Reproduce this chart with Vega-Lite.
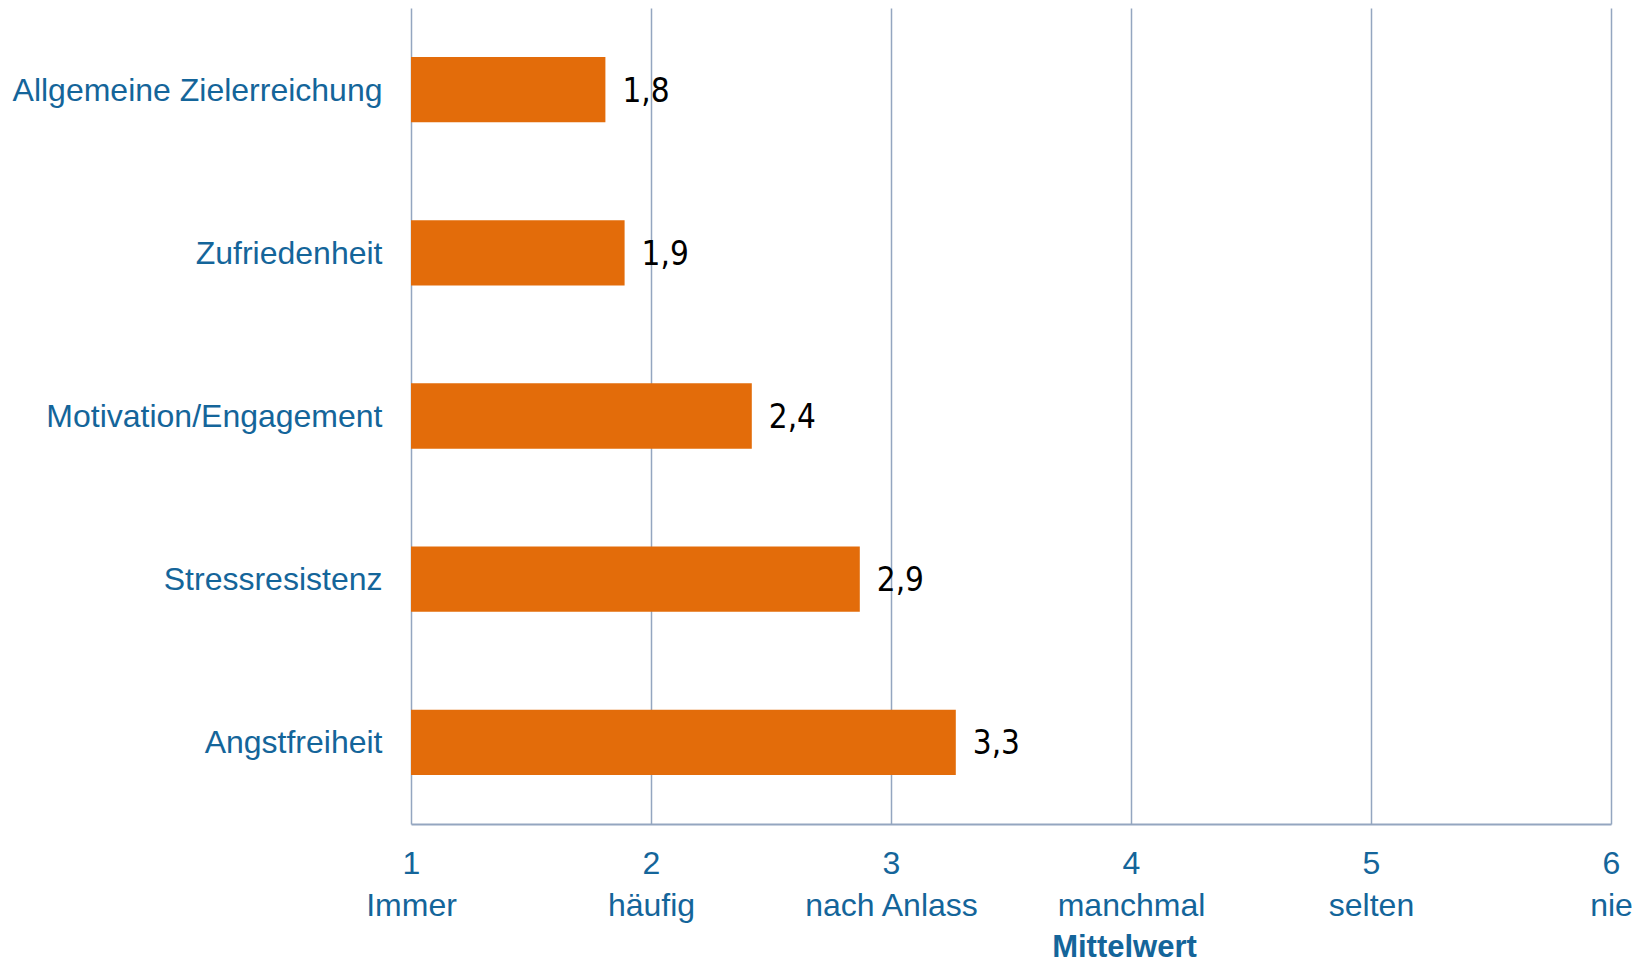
{
  "$schema": "https://vega.github.io/schema/vega-lite/v6.json",
  "width": 1200,
  "height": 816,
  "autosize": {"type": "none"},
  "padding": {"left": 411, "top": 8, "right": 29, "bottom": 139},
  "background": "white",
  "config": {"view": {"stroke": null}},
  "data": {
    "values": [
      {"cat": "Allgemeine Zielerreichung", "value": 1.81, "label": "1,8"},
      {"cat": "Zufriedenheit", "value": 1.89, "label": "1,9"},
      {"cat": "Motivation/Engagement", "value": 2.42, "label": "2,4"},
      {"cat": "Stressresistenz", "value": 2.87, "label": "2,9"},
      {"cat": "Angstfreiheit", "value": 3.27, "label": "3,3"}
    ]
  },
  "encoding": {
    "y": {
      "field": "cat",
      "type": "nominal",
      "sort": null,
      "scale": {"paddingInner": 0.6, "paddingOuter": 0.3},
      "axis": {
        "title": null,
        "domain": false,
        "ticks": false,
        "grid": false,
        "labelFont": "Liberation Sans",
        "labelFontSize": 32,
        "labelColor": "#14659a",
        "labelPadding": 29,
        "labelOffset": 1,
        "labelLimit": 420
      }
    }
  },
  "layer": [
    {
      "mark": {"type": "bar", "color": "#e36c0a"},
      "encoding": {
        "x": {
          "field": "value",
          "type": "quantitative",
          "scale": {"domain": [1, 6], "nice": false, "zero": false},
          "axis": {
            "values": [1, 2, 3, 4, 5, 6],
            "grid": true,
            "gridColor": "#94a6c0",
            "gridWidth": 1.5,
            "domain": true,
            "domainColor": "#94a6c0",
            "domainWidth": 2,
            "ticks": false,
            "labelFont": "Liberation Sans",
            "labelFontSize": 32,
            "labelColor": "#14659a",
            "labelPadding": 24,
            "labelLineHeight": 42,
            "labelFlush": false,
            "labelOverlap": false,
            "labelExpr": "[format(datum.value, 'd'), ['', 'Immer', 'häufig', 'nach Anlass', 'manchmal', 'selten', 'nie'][datum.value]]",
            "title": "Mittelwert",
            "titleFont": "Liberation Sans",
            "titleFontSize": 31,
            "titleFontWeight": "bold",
            "titleColor": "#14659a",
            "titleX": 713,
            "titleY": 123,
            "titleAlign": "center",
            "titleBaseline": "middle"
          }
        },
        "x2": {"datum": 1}
      }
    },
    {
      "mark": {
        "type": "text",
        "align": "left",
        "baseline": "middle",
        "dx": 17,
        "dy": 2,
        "font": "Liberation Sans Narrow, DejaVu Sans Condensed, Liberation Sans",
        "fontSize": 33,
        "color": "#000000"
      },
      "encoding": {
        "x": {"field": "value", "type": "quantitative"},
        "text": {"field": "label"}
      }
    }
  ]
}
